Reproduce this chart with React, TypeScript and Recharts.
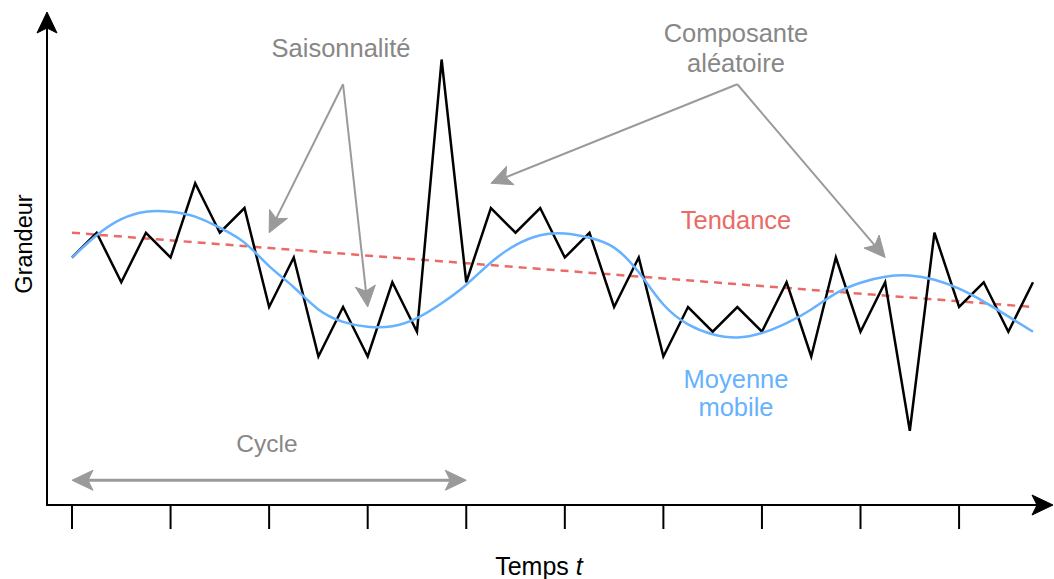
import React from "react";
import { LineChart, Line, XAxis, YAxis } from "recharts";

const observed = [
  10, 11, 9, 11, 10, 13, 11, 12, 8, 10, 6, 8, 6, 9, 7, 18, 9, 12, 11, 12, 10,
  11, 8, 10, 6, 8, 7, 8, 7, 9, 6, 10, 7, 9, 3, 11, 8, 9, 7, 9,
];

// moving average (smooth blue curve)
const movingAvg = [
  10.0, 10.9, 11.55, 11.85, 11.85, 11.65, 11.2, 10.6, 9.65, 8.8, 7.9, 7.4, 7.2,
  7.22, 7.55, 8.15, 8.9, 9.8, 10.5, 10.9, 10.97, 10.8, 10.4, 9.4, 8.1, 7.3, 6.9,
  6.77, 6.95, 7.35, 7.9, 8.55, 8.98, 9.22, 9.27, 9.1, 8.74, 8.22, 7.62, 7.0,
];

// trend: straight line between the two ends
const trendStart = 11;
const trendEnd = 8;

const xTicks = [0, 4, 8, 12, 16, 20, 24, 28, 32, 36];

const data = observed.map((v, i) => ({
  t: i,
  obs: v,
  avg: movingAvg[i],
  trend: i === 0 ? trendStart : i === observed.length - 1 ? trendEnd : null,
}));

const W = 1054;
const H = 579;
const M = { top: 10, right: 21, bottom: 44, left: 72 };
const AXIS_H = 30;
const X_MAX = 39;
const Y_MAX = 20;

const plotW = W - M.left - M.right;
const plotBottom = H - M.bottom - AXIS_H;
const plotH = plotBottom - M.top;

// same mapping as the chart, used for the annotations only
const px = (i: number) => M.left + (i * plotW) / X_MAX;
const py = (v: number) => plotBottom - (v * plotH) / Y_MAX;

const GRAY_TEXT = "#878787";
const GRAY = "#9a9a9a";
const RED = "#ea6b66";
const BLUE = "#66b2ff";
const FONT = "'Liberation Sans', Arial, sans-serif";
const FS = 25.5;

function Arrow({
  x1,
  y1,
  x2,
  y2,
  color,
  width = 2,
  both = false,
}: {
  x1: number;
  y1: number;
  x2: number;
  y2: number;
  color: string;
  width?: number;
  both?: boolean;
}) {
  const len = 21;
  const half = 10;
  const notch = 16;
  const head = (ax: number, ay: number, bx: number, by: number) => {
    // tip at (bx, by), coming from (ax, ay)
    const dx = bx - ax;
    const dy = by - ay;
    const d = Math.hypot(dx, dy);
    const ux = dx / d;
    const uy = dy / d;
    const nx = -uy;
    const ny = ux;
    const bxl = bx - ux * len;
    const byl = by - uy * len;
    const pts = [
      [bx, by],
      [bxl + nx * half, byl + ny * half],
      [bx - ux * notch, by - uy * notch],
      [bxl - nx * half, byl - ny * half],
    ];
    return {
      poly: pts.map((p) => p.join(",")).join(" "),
      end: [bx - ux * notch, by - uy * notch],
    };
  };
  const h2 = head(x1, y1, x2, y2);
  const h1 = both ? head(x2, y2, x1, y1) : null;
  const sx = h1 ? h1.end[0] : x1;
  const sy = h1 ? h1.end[1] : y1;
  return (
    <g>
      <line
        x1={sx}
        y1={sy}
        x2={h2.end[0]}
        y2={h2.end[1]}
        stroke={color}
        strokeWidth={width}
      />
      <polygon points={h2.poly} fill={color} stroke={color} strokeWidth={1} />
      {h1 && (
        <polygon points={h1.poly} fill={color} stroke={color} strokeWidth={1} />
      )}
    </g>
  );
}

function Annotations() {
  const apexS = { x: px(11), y: py(17) };
  const apexC = { x: px(27), y: py(17) };
  return (
    <g fontFamily={FONT}>
      {/* axes */}
      <line x1={47} y1={plotBottom} x2={47} y2={30} stroke="#000" strokeWidth={2} />
      <Arrow x1={47} y1={60} x2={47} y2={12} color="#000" width={2} />
      <line x1={46} y1={plotBottom} x2={1040} y2={plotBottom} stroke="#000" strokeWidth={2} />
      <Arrow x1={1000} y1={plotBottom} x2={1053} y2={plotBottom} color="#000" width={2} />

      {/* seasonality */}
      <text x={341} y={57} fontSize={FS} fill={GRAY_TEXT} textAnchor="middle">
        Saisonnalité
      </text>
      <Arrow x1={apexS.x} y1={apexS.y} x2={px(8)} y2={py(11)} color={GRAY} />
      <Arrow x1={apexS.x} y1={apexS.y} x2={px(12)} y2={py(8)} color={GRAY} />

      {/* random component */}
      <text x={736} y={42} fontSize={FS} fill={GRAY_TEXT} textAnchor="middle">
        Composante
      </text>
      <text x={736} y={72} fontSize={FS} fill={GRAY_TEXT} textAnchor="middle">
        aléatoire
      </text>
      <Arrow x1={apexC.x} y1={apexC.y} x2={px(17)} y2={py(13)} color={GRAY} />
      <Arrow x1={apexC.x} y1={apexC.y} x2={px(33)} y2={py(10)} color={GRAY} />

      <text x={736} y={229} fontSize={FS} fill={RED} textAnchor="middle">
        Tendance
      </text>
      <text x={736} y={388} fontSize={FS} fill={BLUE} textAnchor="middle">
        Moyenne
      </text>
      <text x={736} y={416} fontSize={FS} fill={BLUE} textAnchor="middle">
        mobile
      </text>

      {/* cycle */}
      <text x={267} y={452} fontSize={24.5} fill={GRAY_TEXT} textAnchor="middle">
        Cycle
      </text>
      <Arrow x1={px(0)} y1={py(1)} x2={px(16)} y2={py(1)} color={GRAY} width={3} both />

      {/* axis titles */}
      <text x={539} y={575} fontSize={25} fill="#000" textAnchor="middle">
        Temps <tspan fontStyle="italic">t</tspan>
      </text>
      <text
        x={0}
        y={0}
        fontSize={23.5}
        fill="#000"
        textAnchor="middle"
        transform={`translate(32, 244) rotate(-90)`}
      >
        Grandeur
      </text>
    </g>
  );
}

export default function App() {
  return (
    <div style={{ position: "absolute", left: 0, top: 0, width: W, height: H, background: "#fff" }}>
      <LineChart width={W} height={H} data={data} margin={M}>
        <XAxis
          dataKey="t"
          type="number"
          domain={[0, X_MAX]}
          ticks={xTicks}
          height={AXIS_H}
          axisLine={false}
          tickLine={{ stroke: "#000", strokeWidth: 2 }}
          tickSize={24}
          tickFormatter={() => ""}
          interval={0}
        />
        <YAxis hide domain={[0, Y_MAX]} type="number" />
        <Line
          dataKey="trend"
          type="linear"
          stroke={RED}
          strokeWidth={2.5}
          strokeDasharray="8 6"
          dot={false}
          connectNulls
          isAnimationActive={false}
        />
        <Line
          dataKey="obs"
          type="linear"
          stroke="#000"
          strokeWidth={2.5}
          dot={false}
          isAnimationActive={false}
        />
        <Line
          dataKey="avg"
          type="natural"
          stroke={BLUE}
          strokeWidth={2.5}
          dot={false}
          isAnimationActive={false}
        />
        <Annotations />
      </LineChart>
    </div>
  );
}
